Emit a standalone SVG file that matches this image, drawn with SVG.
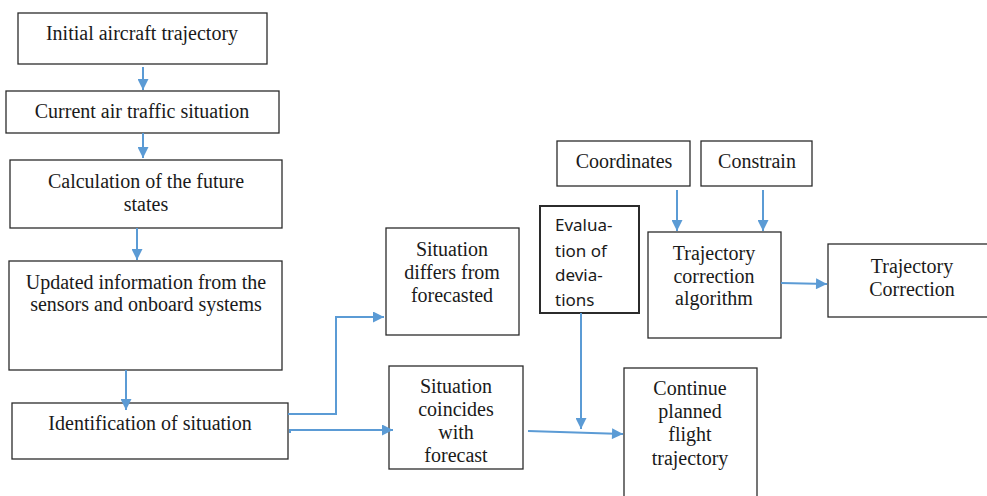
<svg xmlns="http://www.w3.org/2000/svg" width="987" height="496" viewBox="0 0 987 496">
<style>
.box{fill:#fff;stroke:#2b2b2b;stroke-width:1.3}
.t{font-family:"Liberation Serif","Times New Roman",serif;font-size:20px;fill:#1a1a1a;text-anchor:middle}
.s{font-family:"Noto Sans","DejaVu Sans",sans-serif;font-size:17px;fill:#1a1a1a}
.c{fill:none;stroke:#5B9BD5;stroke-width:2}
</style>
<defs>
<marker id="ah" viewBox="0 0 10 10" refX="10" refY="5" markerWidth="6" markerHeight="5.5" orient="auto" markerUnits="strokeWidth">
<path d="M0,0 L10,5 L0,10 z" fill="#5B9BD5"/>
</marker>
</defs>
<rect width="987" height="496" fill="#fff"/>
<g id="n1"><rect class="box" x="18" y="13" width="249" height="51"/><text class="t" x="142" y="40">Initial aircraft trajectory</text></g>
<g id="n2"><rect class="box" x="6" y="91" width="273" height="42"/><text class="t" x="142" y="118">Current air traffic situation</text></g>
<g id="n3"><rect class="box" x="10" y="160" width="272" height="68"/><text class="t" x="146" y="188">Calculation of the future</text><text class="t" x="146" y="211">states</text></g>
<g id="n4"><rect class="box" x="9" y="261" width="273" height="109"/><text class="t" x="146" y="289">Updated information from the</text><text class="t" x="146" y="311">sensors and onboard systems</text></g>
<g id="n5"><rect class="box" x="12" y="403" width="276" height="56"/><text class="t" x="150" y="430">Identification of situation</text></g>
<g id="n6"><rect class="box" x="386" y="228" width="133" height="107"/><text class="t" x="452" y="256">Situation</text><text class="t" x="452" y="279">differs from</text><text class="t" x="452" y="302">forecasted</text></g>
<g id="n7"><rect class="box" x="389" y="366" width="134" height="103"/><text class="t" x="456" y="393">Situation</text><text class="t" x="456" y="416">coincides</text><text class="t" x="456" y="439">with</text><text class="t" x="456" y="462">forecast</text></g>
<g id="n8"><rect class="box" x="624" y="368" width="133" height="132"/><text class="t" x="690" y="395">Continue</text><text class="t" x="690" y="418">planned</text><text class="t" x="690" y="441">flight</text><text class="t" x="690" y="465">trajectory</text></g>
<g id="n9"><rect class="box" x="540" y="206" width="99" height="107" style="stroke-width:2"/><text class="s" x="555" y="231">Evalua-</text><text class="s" x="555" y="257">tion of</text><text class="s" x="555" y="281">devia-</text><text class="s" x="555" y="306">tions</text></g>
<g id="n10"><rect class="box" x="557" y="141" width="133" height="45"/><text class="t" x="624" y="168">Coordinates</text></g>
<g id="n11"><rect class="box" x="701" y="141" width="111" height="45"/><text class="t" x="757" y="168">Constrain</text></g>
<g id="n12"><rect class="box" x="648" y="232" width="133" height="106"/><text class="t" x="714" y="260">Trajectory</text><text class="t" x="714" y="283">correction</text><text class="t" x="714" y="305">algorithm</text></g>
<g id="n13"><rect class="box" x="828" y="244" width="162" height="73"/><text class="t" x="912" y="273">Trajectory</text><text class="t" x="912" y="296">Correction</text></g>
<g id="connectors">
<path class="c" d="M143,67 V90" marker-end="url(#ah)"/>
<path class="c" d="M143,133 V158" marker-end="url(#ah)"/>
<path class="c" d="M137,228 V260" marker-end="url(#ah)"/>
<path class="c" d="M126,370 V410" marker-end="url(#ah)"/>
<path class="c" d="M288,414 H336 V317 H384" marker-end="url(#ah)"/>
<path class="c" d="M290,433 V430 H393" marker-end="url(#ah)"/>
<path class="c" d="M528,431 L623,434" marker-end="url(#ah)"/>
<path class="c" d="M581,313 V429" marker-end="url(#ah)"/>
<path class="c" d="M677,190 V231" marker-end="url(#ah)"/>
<path class="c" d="M763,190 V231" marker-end="url(#ah)"/>
<path class="c" d="M781,283 L827,284" marker-end="url(#ah)"/>
</g>
</svg>
